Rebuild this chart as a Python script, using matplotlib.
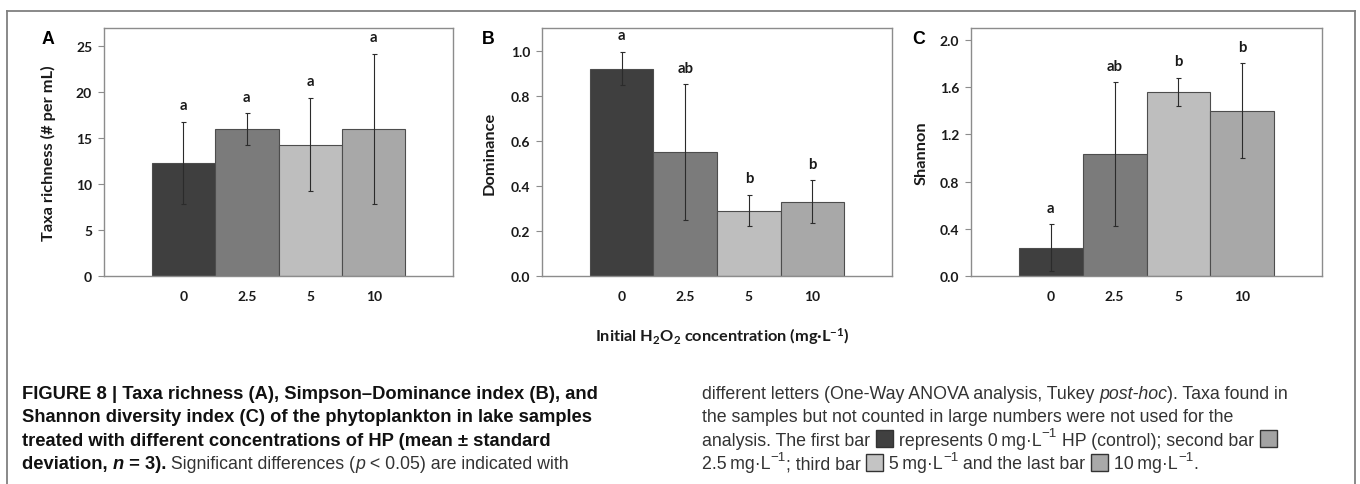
import numpy as np
import matplotlib
matplotlib.use("Agg")
import matplotlib.pyplot as plt
from matplotlib.font_manager import FontProperties
from matplotlib.patches import Rectangle
from matplotlib.lines import Line2D

plt.rcParams['mathtext.default'] = 'regular'

doses = ['0', '2.5', '5', '10']
bar_colors = ['#3f3f3f', '#7b7b7b', '#bebebe', '#a8a8a8']
square_colors = ['#404040', '#a3a3a3', '#c4c4c4', '#a9a9a9']

richness = [12.3, 16.0, 14.3, 16.0]
richness_sd = [4.5, 1.7, 5.1, 8.2]
richness_letters = ['a', 'a', 'a', 'a']

dominance = [0.92, 0.55, 0.29, 0.33]
dominance_sd = [0.075, 0.30, 0.07, 0.095]
dominance_letters = ['a', 'ab', 'b', 'b']

shannon = [0.24, 1.03, 1.56, 1.40]
shannon_sd = [0.20, 0.61, 0.12, 0.40]
shannon_letters = ['a', 'ab', 'b', 'b']

W, H = 1360, 485
fig = plt.figure(figsize=(W / 100, H / 100), dpi=100)
fig.patch.set_facecolor('white')

CHART_FONT = ['Lato', 'DejaVu Sans']
TXT = '#1a1a1a'


def px_axes(left, top, right, bottom):
    return fig.add_axes([left / W, 1 - bottom / H, (right - left) / W, (bottom - top) / H])


def panel(box, vals, sd, letters, ylim, yticks, fmt, ylabel, label_x, tag, tag_xy):
    ax = px_axes(*box)
    x = np.arange(len(doses))
    ax.bar(x, vals, width=1.0, color=bar_colors, edgecolor='#4d4d4d', linewidth=0.8, zorder=2)
    ax.errorbar(x, vals, yerr=sd, fmt='none', ecolor='#2b2b2b', elinewidth=0.8,
                capsize=1.8, capthick=0.8, zorder=3)
    for xi, v, s, let in zip(x, vals, sd, letters):
        ax.annotate(let, (xi, v + s), xytext=(0, 9.0), textcoords='offset points',
                    ha='center', va='baseline', fontsize=10.8, fontweight='bold',
                    family=CHART_FONT, color=TXT)
    ax.set_xlim(-1.25, 4.25)
    ax.set_ylim(*ylim)
    ax.set_yticks(yticks)
    ax.set_yticklabels([fmt.format(t) for t in yticks])
    ax.set_xticks(x)
    ax.set_xticklabels(doses)
    for lab in ax.get_xticklabels() + ax.get_yticklabels():
        lab.set_family(CHART_FONT)
        lab.set_fontweight('bold')
        lab.set_fontsize(10)
        lab.set_color(TXT)
    ax.tick_params(axis='y', length=4, width=0.8, color='#8c8c8c', pad=4.5)
    ax.tick_params(axis='x', length=0, pad=10)
    for sp in ax.spines.values():
        sp.set_color('#8c8c8c')
        sp.set_linewidth(1.0)
    ax.set_ylabel(ylabel, family=CHART_FONT, fontweight='bold', fontsize=11.8, color=TXT)
    ax.yaxis.label.set_verticalalignment('center')
    ax.yaxis.set_label_coords(label_x, 0.5)
    fig.text(tag_xy[0] / W, 1 - tag_xy[1] / H, tag, ha='center', va='center',
             family=['Liberation Sans', 'DejaVu Sans'], fontweight='bold', fontsize=12.8, color='black')
    return ax


panel((104, 29, 453, 277), richness, richness_sd, richness_letters, (0, 27),
      np.arange(0, 26, 5), '{:.0f}', 'Taxa richness (# per mL)', -0.158, 'A', (48, 40))
panel((542, 29, 892, 277), dominance, dominance_sd, dominance_letters, (0, 1.1),
      np.arange(0, 1.01, 0.2), '{:.1f}', 'Dominance', -0.151, 'B', (488, 40))
panel((971, 29, 1322, 277), shannon, shannon_sd, shannon_letters, (0, 2.1),
      np.arange(0, 2.01, 0.4), '{:.1f}', 'Shannon', -0.141, 'C', (919, 40))

fig.text(722 / W, 1 - 337 / H, 'Initial H$_2$O$_2$ concentration (mg\u00b7L$^{-1}$)',
         ha='center', va='center', family=CHART_FONT, fontweight='bold', fontsize=11.8, color=TXT)

# outer frame
frame = '#808080'
fig.add_artist(Line2D([7 / W, 7 / W], [0, 1 - 12 / H], color=frame, lw=1.3))
fig.add_artist(Line2D([7 / W, 1355 / W], [1 - 12 / H, 1 - 12 / H], color=frame, lw=1.3))
fig.add_artist(Line2D([1355 / W, 1355 / W], [0, 1 - 12 / H], color=frame, lw=1.3))

# caption
renderer = fig.canvas.get_renderer()
CAP_FONT = ['Liberation Sans', 'DejaVu Sans']


def cap_prop(kind, size):
    weight = 'bold' if kind in ('b', 'bi') else 'normal'
    style = 'italic' if kind in ('i', 'bi') else 'normal'
    if kind == 'sup':
        size = size * 0.75
    return FontProperties(family=CAP_FONT, weight=weight, style=style, size=size)


def advance(s, prop):
    w1 = renderer.get_text_width_height_descent('|' + s + '|', prop, ismath=False)[0]
    w2 = renderer.get_text_width_height_descent('||', prop, ismath=False)[0]
    return w1 - w2


reg_size = 10 * 589 / advance('different letters (One-Way ANOVA analysis, Tukey post-hoc). Taxa found in',
                              cap_prop('r', 10))
bold_size = 10 * 179 / advance('FIGURE 8 | Taxa rich', cap_prop('b', 10))
SQ = 17


def draw_line(x, y, runs):
    for text, kind in runs:
        if kind == 'sq':
            fig.add_artist(Rectangle(((x + 1) / W, 1 - (y + 2) / H), SQ / W, SQ / H,
                                     transform=fig.transFigure, facecolor=square_colors[text],
                                     edgecolor='#333333', lw=1.0))
            x += SQ + 2
            continue
        size = bold_size if kind in ('b', 'bi') else reg_size
        prop = cap_prop(kind, size)
        dy = size / 0.72 * 0.48 if kind == 'sup' else 0
        color = '#111111' if kind in ('b', 'bi') else '#333333'
        fig.text(x / W, 1 - (y - dy) / H, text, fontproperties=prop, color=color,
                 ha='left', va='baseline')
        x += advance(text, prop)


ts = '\u2009'
left_lines = [
    [('FIGURE 8 | Taxa richness (A), Simpson\u2013Dominance index (B), and', 'b')],
    [('Shannon diversity index (C) of the phytoplankton in lake samples', 'b')],
    [('treated with different concentrations of HP (mean \u00b1 standard', 'b')],
    [('deviation, ', 'b'), ('n', 'bi'), (' = 3).', 'b'), (' Significant differences (', 'r'),
     ('p', 'i'), (' < 0.05) are indicated with', 'r')],
]
right_lines = [
    [('different letters (One-Way ANOVA analysis, Tukey ', 'r'), ('post-hoc', 'i'),
     ('). Taxa found in', 'r')],
    [('the samples but not counted in large numbers were not used for the', 'r')],
    [('analysis. The first bar ', 'r'), (0, 'sq'), (' represents 0' + ts + 'mg\u00b7L', 'r'),
     ('\u22121', 'sup'), (' HP (control); second bar ', 'r'), (1, 'sq')],
    [('2.5' + ts + 'mg\u00b7L', 'r'), ('\u22121', 'sup'), ('; third bar ', 'r'), (2, 'sq'),
     (' 5' + ts + 'mg\u00b7L', 'r'), ('\u22121', 'sup'), (' and the last bar ', 'r'), (3, 'sq'),
     (' 10' + ts + 'mg\u00b7L', 'r'), ('\u22121', 'sup'), ('.', 'r')],
]
baselines = [399, 422.5, 446, 469.5]
for y, runs in zip(baselines, left_lines):
    draw_line(22, y, runs)
for y, runs in zip(baselines, right_lines):
    draw_line(702, y, runs)

fig.savefig('out.png', dpi=100)
